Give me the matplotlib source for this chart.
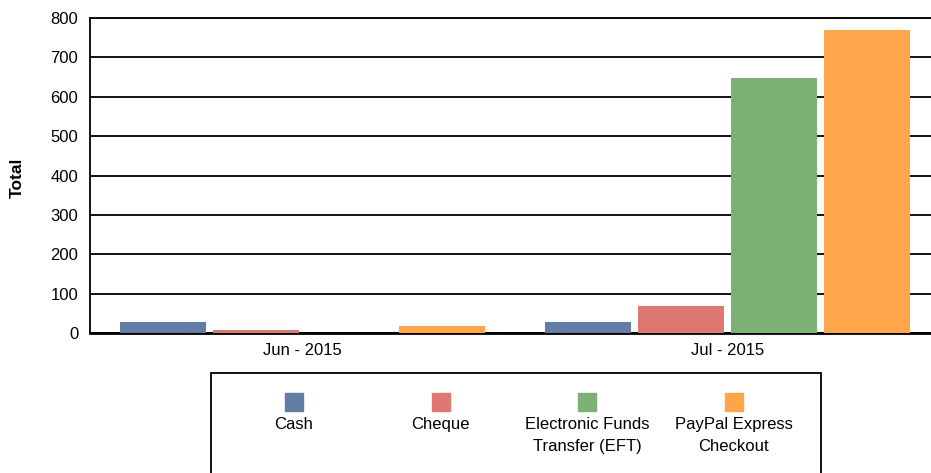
import numpy as np
import matplotlib.pyplot as plt
from matplotlib.patches import Rectangle

plt.rcParams['font.family'] = ['Liberation Sans', 'DejaVu Sans']

months = ['Jun - 2015', 'Jul - 2015']
methods = ['Cash', 'Cheque', 'Electronic Funds\nTransfer (EFT)', 'PayPal Express\nCheckout']
cash = [28, 28]
cheque = [8, 69]
eft = [0, 647]
paypal = [18, 769]
colors = ['#647DA6', '#E07872', '#7BB274', '#FFA64A']

series = [cash, cheque, eft, paypal]

W, H = 931, 473
fig = plt.figure(figsize=(W / 100, H / 100), dpi=100)
# axes runs a bit past the right edge, like the original
ax = fig.add_axes([90 / W, 1 - 333 / H, 850 / W, 315 / H])

x = np.arange(len(months))
slot = 0.219
bw = 0.202
for i, vals in enumerate(series):
    ax.bar(x + (i - 1.5) * slot, vals, width=bw, color=colors[i], zorder=3)

ax.set_xlim(-0.5, 1.5)
ax.set_ylim(0, 800)
ax.set_yticks(range(0, 801, 100))
ax.set_xticks(x)
ax.set_xticklabels(months)
ax.tick_params(axis='both', length=0, labelsize=12)
ax.tick_params(axis='y', pad=8.5)
ax.tick_params(axis='x', pad=7)
ax.yaxis.grid(True, color='black', linewidth=1.3, zorder=0)
for s in ['left', 'top']:
    ax.spines[s].set_linewidth(1.3)
ax.spines['bottom'].set_linewidth(2)
ax.spines['right'].set_visible(False)
ax.set_axisbelow(True)

fig.text(17 / W, 1 - 178 / H, 'Total', rotation=90, fontsize=12.5, fontweight='bold',
         ha='center', va='center')

# legend box
fig.patches.append(Rectangle((211 / W, -0.05), 610 / W, (H - 373) / H + 0.05,
                             transform=fig.transFigure, fill=False,
                             edgecolor='black', linewidth=1.3))
for i, name in enumerate(methods):
    cx = 294 + i * 146.5
    fig.patches.append(Rectangle(((cx - 9) / W, 1 - 411 / H), 18 / W, 18 / H,
                                 transform=fig.transFigure, color=colors[i]))
    fig.text(cx / W, 1 - 417 / H, name, ha='center', va='top', fontsize=12,
             linespacing=1.55)

fig.savefig('out.png', dpi=100)
